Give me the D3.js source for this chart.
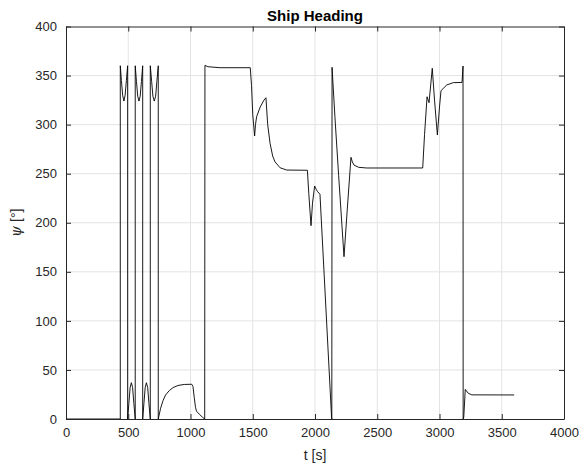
<!DOCTYPE html>
<html>
<head>
<meta charset="utf-8">
<script src="https://cdn.jsdelivr.net/npm/d3@7"></script>
<style>
    body { margin: 0; background: #fff; }
    text { font-family: "Liberation Sans", Arial, Helvetica, sans-serif; }
</style>
</head>
<body>
<script>
// ship heading data (t in s, psi in deg)
var time = [0, 436, 436, 445, 455, 465, 475, 485, 495,
    495, 505, 515, 525, 535, 545, 556,
    556, 566, 576, 586, 596, 606, 616,
    616, 626, 636, 646, 656, 666, 677,
    677, 688, 698, 709, 720, 730, 741,
    741, 760, 780, 800, 830, 860, 900, 950, 1010, 1020, 1030, 1040, 1048, 1070, 1095, 1114,
    1116, 1140, 1237, 1480, 1490, 1500, 1515, 1522, 1531, 1560, 1590, 1606, 1620, 1639, 1660, 1679, 1720, 1773,
    1939, 1950, 1968, 1980, 1997, 2010, 2019, 2040, 2133,
    2135, 2137, 2160, 2190, 2233, 2260, 2289, 2300, 2313, 2350, 2415,
    2865, 2880, 2900, 2916, 2942, 2960, 2983, 3000, 3012, 3058, 3111, 3181, 3189,
    3190, 3195, 3207, 3231, 3260, 3600];
var psi = [0, 0, 360, 345, 330, 324, 330, 345, 360,
    0, 16, 32, 37, 32, 16, 0,
    360, 344, 329, 324, 329, 344, 360,
    0, 16, 32, 37, 32, 16, 0,
    360, 344, 329, 324, 329, 344, 360,
    0, 11, 19, 24.5, 29, 32, 34.2, 35.2, 35.4, 33, 22, 12, 8, 5, 2, 0,
    360.4, 359, 358, 358, 340, 310, 288.4, 300, 308, 318, 325, 327.4, 300, 281, 268, 262, 256, 253.7,
    253.5, 230, 197, 220, 237.4, 234, 232, 229, 2,
    0, 358.4, 308, 248, 165.4, 215, 266.7, 262, 258.8, 256.5, 255.8,
    255.8, 290, 328.4, 322.4, 357.4, 325, 289.4, 318, 334.6, 340.4, 342.8, 343, 359.7,
    0, 2, 30.2, 26.2, 24.6, 24.5];

var xTicks = [0, 500, 1000, 1500, 2000, 2500, 3000, 3500, 4000];
var yTicks = [0, 50, 100, 150, 200, 250, 300, 350, 400];

var svg = d3.select("body").append("svg").attr("width", 588).attr("height", 465);
var plotLeft = 66, plotRight = 564, plotTop = 26.5, plotBottom = 419;
var axisColor = "#262626";

var x = d3.scaleLinear().domain([0, 4000]).range([plotLeft, plotRight]);
var y = d3.scaleLinear().domain([0, 400]).range([plotBottom, plotTop]);

// grid
svg.append("g").selectAll("line").data(xTicks.slice(1, -1)).enter().append("line")
    .attr("x1", d => x(d)).attr("x2", d => x(d))
    .attr("y1", plotTop).attr("y2", plotBottom)
    .style("stroke", "#e3e3e3").style("stroke-width", 1);
svg.append("g").selectAll("line").data(yTicks.slice(1, -1)).enter().append("line")
    .attr("x1", plotLeft).attr("x2", plotRight)
    .attr("y1", d => y(d)).attr("y2", d => y(d))
    .style("stroke", "#e3e3e3").style("stroke-width", 1);

// heading line
var points = time.map((t, i) => [t, psi[i]]);
var line = d3.line().x(d => x(d[0])).y(d => y(d[1]));
svg.append("path")
    .datum(points)
    .attr("d", line)
    .style("fill", "none")
    .style("stroke", "#000")
    .style("stroke-width", 0.9)
    .style("stroke-linejoin", "round");

// axes, ticks inward on all sides (box on)
var tickLen = 5;
var fmt = d3.format("d");
var xBottom = svg.append("g").attr("transform", "translate(0," + plotBottom + ")")
    .call(d3.axisBottom(x).tickValues(xTicks).tickFormat(fmt).tickSizeInner(-tickLen).tickSizeOuter(0).tickPadding(9));
var xTop = svg.append("g").attr("transform", "translate(0," + plotTop + ")")
    .call(d3.axisTop(x).tickValues(xTicks).tickSizeInner(-tickLen).tickSizeOuter(0).tickFormat(""));
var yLeft = svg.append("g").attr("transform", "translate(" + plotLeft + ",0)")
    .call(d3.axisLeft(y).tickValues(yTicks).tickFormat(fmt).tickSizeInner(-tickLen).tickSizeOuter(0).tickPadding(9));
var yRight = svg.append("g").attr("transform", "translate(" + plotRight + ",0)")
    .call(d3.axisRight(y).tickValues(yTicks).tickSizeInner(-tickLen).tickSizeOuter(0).tickFormat(""));

[xBottom, xTop, yLeft, yRight].forEach(function(g) {
    g.select(".domain").style("stroke", axisColor).style("stroke-width", 1);
    g.selectAll(".tick line").style("stroke", axisColor);
    g.selectAll(".tick text")
        .style("fill", axisColor)
        .style("font-size", "13px")
        .style("font-family", "'Liberation Sans', Arial, sans-serif");
});

// title and labels
svg.append("text")
    .attr("x", (plotLeft + plotRight) / 2).attr("y", 21)
    .attr("text-anchor", "middle")
    .style("font-size", "15px").style("font-weight", "bold")
    .style("fill", "#000")
    .text("Ship Heading");

svg.append("text")
    .attr("x", (plotLeft + plotRight) / 2).attr("y", 460)
    .attr("text-anchor", "middle")
    .style("font-size", "14px")
    .style("fill", axisColor)
    .text("t [s]");

var yl = svg.append("text")
    .attr("transform", "translate(21," + (plotTop + plotBottom) / 2 + ") rotate(-90)")
    .attr("text-anchor", "middle")
    .style("font-size", "14px")
    .style("fill", axisColor);
yl.append("tspan").style("font-family", "'DejaVu Serif', serif").style("font-style", "italic").text("ψ");
yl.append("tspan").text(" [°]");
</script>
</body>
</html>
